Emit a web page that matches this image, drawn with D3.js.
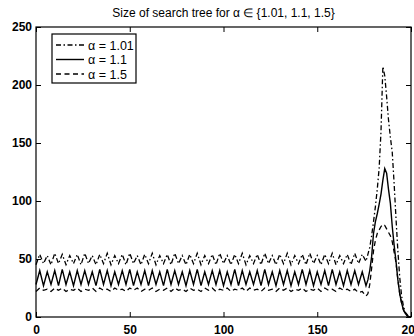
<!DOCTYPE html>
<html><head><meta charset="utf-8">
<script src="https://cdn.jsdelivr.net/npm/d3@7/dist/d3.min.js"></script>
<style>body{margin:0;background:#fff}svg{display:block}text{font-family:"Liberation Sans",Arial,sans-serif;fill:#000}</style>
</head><body><svg id="c" width="414" height="336"></svg>
<script>
// x positions: 0..176 step 2, then 177..200 step 1
const xBase = d3.range(0, 177, 2);
const xPeak = d3.range(177, 201, 1);
const xs = xBase.concat(xPeak);

const a101 = [
45,54,46,53,45,55,46,54,45,53,
46,54,45,55,46,53,45,54,46,55,
45,53,46,54,45,55,46,53,45,54,
46,55,45,53,46,54,45,55,46,53,
45,54,46,55,45,53,46,54,45,55,
46,53,45,54,46,55,45,53,46,54,
45,55,46,53,45,54,46,55,45,53,
46,54,45,55,46,53,45,54,46,55,
45,53,46,54,45,55,46,54,48,
54,60,70,82,95,110,128,160,216,208,190,170,155,142,115,85,57,34,18,9,4,2,0,0];

const a11 = [
28,40,27,39,28,40,27,41,28,39,
27,40,28,40,28,39,27,41,28,40,
27,39,28,40,28,41,27,39,28,40,
27,40,28,39,27,41,28,40,28,39,
27,40,28,41,27,39,28,40,28,40,
27,39,28,41,27,40,28,39,28,40,
27,41,28,39,27,40,28,40,27,39,
28,41,28,40,27,39,28,40,27,41,
28,39,27,40,28,40,28,39,27,
32,40,52,72,82,89,97,106,118,128,124,110,98,78,62,48,32,20,12,6,3,1,0,0];

const a15 = [
22,25,23,24,22,25,23,25,22,24,
23,25,22,24,23,25,22,25,23,24,
22,25,23,24,22,25,23,25,22,24,
23,25,22,24,23,25,22,25,23,24,
22,25,23,24,22,25,23,25,22,24,
23,25,22,24,23,25,22,25,23,24,
22,25,23,24,22,25,23,25,22,24,
23,25,22,24,23,25,22,25,23,24,
22,25,23,24,22,24,21,22,18,
20,28,42,57,66,72,75,78,80,79,76,73,70,65,56,47,32,20,12,6,3,1,0,0];

const seriesNames = ["\u03b1 = 1.01", "\u03b1 = 1.1", "\u03b1 = 1.5"];
const xTicks = [0, 50, 100, 150, 200];
const yTicks = [0, 50, 100, 150, 200, 250];
const title = "Size of search tree for \u03b1 \u2208 {1.01, 1.1, 1.5}";

const series = [
  {name: seriesNames[0], vals: a101, dash: "5,2.5,1.5,2.5", w: 1.3},
  {name: seriesNames[1], vals: a11, dash: null, w: 1.4},
  {name: seriesNames[2], vals: a15, dash: "5,3.5", w: 1.3}
];

const svg = d3.select("#c");
const L = 36, R = 411, T = 27, B = 317;
const x = d3.scaleLinear().domain([0, 200]).range([L, R]);
const y = d3.scaleLinear().domain([0, 250]).range([B, T]);

svg.append("text").attr("x", (L + R) / 2).attr("y", 17).attr("text-anchor", "middle")
  .attr("font-size", 12).text(title);

const line = d3.line().x((d, i) => x(xs[i])).y(d => y(d));
series.forEach(s => {
  svg.append("path").datum(s.vals).attr("d", line).attr("fill", "none")
    .attr("stroke", "#000").attr("stroke-width", s.w)
    .attr("stroke-dasharray", s.dash);
});

// frame
svg.append("rect").attr("x", L).attr("y", T).attr("width", R - L).attr("height", B - T)
  .attr("fill", "none").attr("stroke", "#000").attr("stroke-width", 1.2);

const tl = 5;
const gx = svg.append("g").attr("transform", `translate(0,${B})`)
  .call(d3.axisBottom(x).tickValues(xTicks).tickSizeInner(-tl).tickSizeOuter(0).tickPadding(8));
const gxt = svg.append("g").attr("transform", `translate(0,${T})`)
  .call(d3.axisTop(x).tickValues(xTicks).tickSizeInner(-tl).tickSizeOuter(0).tickFormat(""));
const gy = svg.append("g").attr("transform", `translate(${L},0)`)
  .call(d3.axisLeft(y).tickValues(yTicks).tickSizeInner(-tl).tickSizeOuter(0).tickPadding(4));
const gyr = svg.append("g").attr("transform", `translate(${R},0)`)
  .call(d3.axisRight(y).tickValues(yTicks).tickSizeInner(-tl).tickSizeOuter(0).tickFormat(""));
[gx, gxt, gy, gyr].forEach(g => {
  g.select(".domain").remove();
  g.selectAll("line").attr("stroke", "#000").attr("stroke-width", 1);
  g.selectAll("text").attr("font-family", "Liberation Sans, Arial, sans-serif")
    .attr("font-size", 12).attr("font-weight", "bold").attr("fill", "#000");
});

// legend
const lg = svg.append("g");
lg.append("rect").attr("x", 52).attr("y", 34).attr("width", 84).attr("height", 49)
  .attr("fill", "#fff").attr("stroke", "#000").attr("stroke-width", 1.2);
series.forEach((s, i) => {
  const yy = 45 + i * 14.5;
  lg.append("line").attr("x1", 56).attr("x2", 84).attr("y1", yy).attr("y2", yy)
    .attr("stroke", "#000").attr("stroke-width", s.w).attr("stroke-dasharray", s.dash);
  lg.append("text").attr("x", 88).attr("y", yy + 4.5).attr("font-size", 12.5).text(s.name);
});
</script></body></html>
